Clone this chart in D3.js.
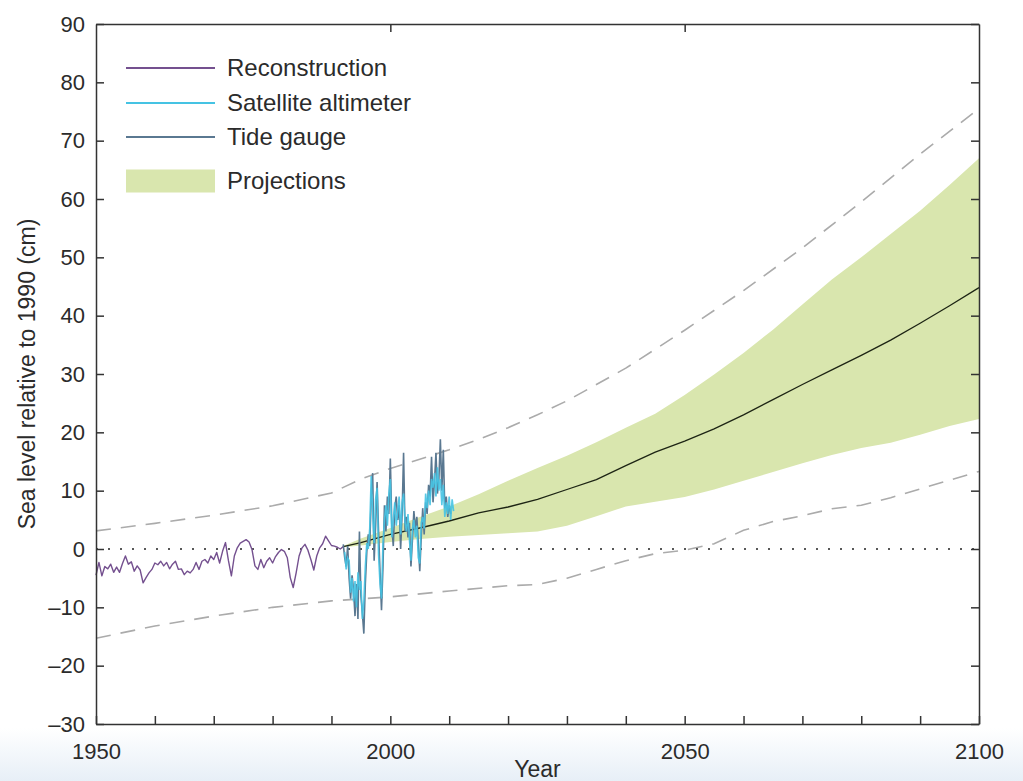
<!DOCTYPE html>
<html>
<head>
<meta charset="utf-8">
<script src="https://cdn.jsdelivr.net/npm/d3@7"></script>
<style>
  body { margin: 0; background: #fff; }
  text { font-family: "Liberation Sans", Arial, Helvetica, sans-serif; fill: #2b2b2b; }
</style>
</head>
<body>
<svg width="1023" height="781"></svg>
<script>
// reconstruction, one value every half year from 1950.0 to 1992.0
const reconStart = 1950;
const reconStep = 0.5;
const reconstruction = [
  -4.5, -2.3, -4.6, -3.0, -3.4, -2.6, -4.0, -3.1, -4.0, -2.5,
  -1.2, -2.6, -2.2, -3.8, -2.9, -3.6, -5.8, -4.9, -4.1, -3.5,
  -2.4, -2.7, -2.1, -2.9, -2.3, -3.4, -2.6, -2.1, -3.5, -3.4,
  -4.4, -3.8, -4.1, -3.5, -2.3, -3.5, -2.1, -1.8, -2.4, -1.2,
  -1.8, -0.6, -2.4, -0.4, 1.1, -2.0, -4.6, -1.2, 0.2, 1.0,
  1.3, 1.6, 1.2, -0.1, -2.9, -3.5, -1.8, -3.2, -2.1, -1.5,
  -2.4, -1.3, -0.6, -0.1, -0.4, -1.5, -4.9, -6.6, -4.1, -1.2,
  0.2, 0.8, -0.2, -1.8, -3.6, -1.2, 0.2, 0.9, 2.2, 1.4,
  0.6, 0.5, 0.3, 0.0, 0.4
];

// tide gauge, one value every quarter year from 1992.0
const tideStart = 1992;
const tideStep = 0.25;
const tideGauge = [
  0.8, -1.5, -3.0, 0.5, -5.0, -8.5, -4.5, -7.0, -11.5, -6.0,
  -12.0, 3.0, -8.0, -11.0, -14.5, -6.0, -0.5, 2.5, 0.5, 9.0,
  13.0, -2.0, 4.0, 11.5, 3.0, -4.0, -10.5, -3.0, 7.5, 3.0,
  9.0, 6.0, 15.5, 4.0, 0.5, 7.0, 9.0, 5.0, 7.5, 0.0,
  6.0, 16.5, 3.0, 5.5, 2.0, 4.5, -3.0, 1.5, 6.5, 3.5,
  5.5, 1.0, -3.8, 2.0, 7.0, 2.5, 8.0, 6.0, 11.0, 9.0,
  15.8, 8.0, 11.5, 16.5, 9.5, 12.0, 18.8, 10.0, 17.0, 7.0,
  9.0, 5.5, 7.5, 6.0
];

// satellite altimeter, one value every quarter year from 1992.25
const satStart = 1992.25;
const satStep = 0.25;
const satellite = [
  -0.5, -3.5, -1.5, -2.0, -7.5, -5.0, -9.0, -5.5, -10.0, -4.0,
  -7.0, -5.5, -12.0, -9.0, -3.0, 1.0, 0.0, 3.5, 12.5, 6.0,
  1.0, 8.5, 10.5, -1.0, -6.0, -8.5, 1.0, 5.0, 7.5, 4.0,
  9.5, 12.0, 2.0, 5.0, 8.0, 4.0, 6.5, 9.0, 2.5, 8.0,
  9.5, 4.5, 3.0, 6.0, 1.5, -2.0, 3.5, 5.0, 2.0, 4.0,
  -1.5, -2.5, 4.5, 5.5, 3.5, 9.5, 7.0, 10.0, 7.5, 12.0,
  10.5, 13.0, 9.0, 14.0, 10.0, 12.0, 7.5, 11.0, 5.5, 8.0,
  6.0, 9.0, 5.0, 8.5, 6.5
];

// projections
const projYears = [1992, 1995, 2000, 2005, 2010, 2015, 2020, 2025, 2030, 2035, 2040, 2045,
  2050, 2055, 2060, 2065, 2070, 2075, 2080, 2085, 2090, 2095, 2100];
const projUpper = [0.5, 1.8, 3.6, 5.5, 7.3, 9.4, 11.7, 13.9, 16.0, 18.3, 20.8, 23.2,
  26.4, 29.9, 33.6, 37.6, 41.9, 46.2, 50.0, 54.0, 58.0, 62.4, 67.0];
const projLower = [0.3, 0.6, 1.2, 1.7, 2.1, 2.4, 2.7, 3.0, 4.0, 5.6, 7.3, 8.1,
  8.9, 10.2, 11.7, 13.2, 14.7, 16.1, 17.3, 18.2, 19.6, 21.1, 22.3];
const projMedian = [0.4, 1.1, 2.5, 3.6, 4.8, 6.2, 7.2, 8.5, 10.2, 11.9, 14.3, 16.6,
  18.5, 20.6, 23.0, 25.6, 28.2, 30.7, 33.2, 35.8, 38.7, 41.7, 44.8];

// dashed envelopes
const upperDashYears = [1950, 1960, 1970, 1980, 1990, 1995, 2000, 2005, 2010, 2015, 2020,
  2025, 2030, 2040, 2050, 2060, 2070, 2080, 2090, 2100];
const upperDash = [3.1, 4.4, 5.8, 7.4, 9.6, 12.0, 13.8, 15.4, 17.0, 18.8, 20.8,
  23.0, 25.4, 31.0, 37.5, 44.3, 51.6, 59.5, 67.7, 75.5];
const lowerDashYears = [1950, 1960, 1970, 1980, 1990, 2000, 2010, 2020, 2025, 2030, 2035,
  2040, 2045, 2050, 2055, 2060, 2065, 2070, 2075, 2080, 2085, 2090, 2095, 2100];
const lowerDash = [-15.3, -13.2, -11.5, -10.0, -8.9, -8.2, -7.2, -6.3, -6.1, -5.0, -3.5,
  -2.0, -0.8, -0.2, 0.9, 3.2, 4.7, 5.7, 6.9, 7.5, 8.8, 10.3, 11.8, 13.3];

const xTicks = d3.range(1950, 2101, 10);
const xLabels = [1950, 2000, 2050, 2100];
const yTicks = d3.range(-30, 91, 10);

const legendItems = [
  {label: 'Reconstruction', color: '#74508f', type: 'line'},
  {label: 'Satellite altimeter', color: '#45c3e3', type: 'line'},
  {label: 'Tide gauge', color: '#5a7891', type: 'line'},
  {label: 'Projections', color: '#d9e6ae', type: 'rect'}
];

const svg = d3.select('svg');
const width = +svg.attr('width');
const height = +svg.attr('height');

const render = () => {
  const margin = {top: 24, right: 44, bottom: 57, left: 96};
  const innerWidth = width - margin.left - margin.right;
  const innerHeight = height - margin.top - margin.bottom;

  // faint blue wash along the bottom edge
  const grad = svg.append('defs').append('linearGradient')
    .attr('id', 'wash').attr('x1', 0).attr('y1', 0).attr('x2', 0).attr('y2', 1);
  grad.append('stop').attr('offset', '0%').attr('stop-color', '#ffffff');
  grad.append('stop').attr('offset', '100%').attr('stop-color', '#e7eff7');
  svg.append('rect')
    .attr('x', 0).attr('y', 728).attr('width', width).attr('height', height - 728)
    .attr('fill', 'url(#wash)');

  const xScale = d3.scaleLinear().domain([1950, 2100]).range([0, innerWidth]);
  const yScale = d3.scaleLinear().domain([-30, 90]).range([innerHeight, 0]);

  const g = svg.append('g')
    .attr('transform', `translate(${margin.left},${margin.top})`);

  const series = (start, step, values) =>
    values.map((v, i) => ({year: start + i * step, value: v}));
  const paired = (years, values) => years.map((yr, i) => ({year: yr, value: values[i]}));

  const line = d3.line()
    .x(d => xScale(d.year))
    .y(d => yScale(d.value));

  // projection band
  const band = projYears.map((yr, i) => ({year: yr, lo: projLower[i], hi: projUpper[i]}));
  g.append('path')
    .datum(band)
    .attr('fill', '#d9e6ae')
    .attr('d', d3.area()
      .x(d => xScale(d.year))
      .y0(d => yScale(d.lo))
      .y1(d => yScale(d.hi)));

  // dashed envelopes
  [paired(upperDashYears, upperDash), paired(lowerDashYears, lowerDash)].forEach(data => {
    g.append('path')
      .datum(data)
      .attr('fill', 'none')
      .attr('stroke', '#ababab')
      .attr('stroke-width', 1.6)
      .attr('stroke-dasharray', '15,10')
      .attr('d', line);
  });

  // zero line
  g.append('line')
    .attr('x1', xScale(1950)).attr('x2', xScale(2100))
    .attr('y1', yScale(0)).attr('y2', yScale(0))
    .attr('stroke', '#222')
    .attr('stroke-width', 1.6)
    .attr('stroke-dasharray', '2,10');

  // median projection
  g.append('path')
    .datum(paired(projYears, projMedian))
    .attr('fill', 'none')
    .attr('stroke', '#1d2414')
    .attr('stroke-width', 1.3)
    .attr('d', line);

  // observations
  g.append('path')
    .datum(series(reconStart, reconStep, reconstruction))
    .attr('fill', 'none')
    .attr('stroke', '#74508f')
    .attr('stroke-width', 1.4)
    .attr('stroke-linejoin', 'round')
    .attr('d', line);

  g.append('path')
    .datum(series(tideStart, tideStep, tideGauge))
    .attr('fill', 'none')
    .attr('stroke', '#5a7891')
    .attr('stroke-width', 1.6)
    .attr('d', line);

  g.append('path')
    .datum(series(satStart, satStep, satellite))
    .attr('fill', 'none')
    .attr('stroke', '#45c3e3')
    .attr('stroke-width', 1.6)
    .attr('opacity', 0.9)
    .attr('d', line);

  // axes (ticks point inward)
  const styleAxis = sel => {
    sel.select('.domain').attr('stroke', '#333').attr('stroke-width', 1.5);
    sel.selectAll('.tick line').attr('stroke', '#333').attr('stroke-width', 1.5);
    sel.selectAll('.tick text')
      .attr('font-size', 22)
      .attr('font-family', '"Liberation Sans", Arial, sans-serif')
      .attr('fill', '#2b2b2b');
  };

  g.append('g')
    .attr('transform', `translate(0,${innerHeight})`)
    .call(d3.axisBottom(xScale)
      .tickValues(xTicks)
      .tickSize(-8)
      .tickSizeOuter(0)
      .tickPadding(19)
      .tickFormat(d => xLabels.includes(d) ? d : ''))
    .call(styleAxis);

  g.append('g')
    .call(d3.axisTop(xScale)
      .tickValues([2000, 2050])
      .tickSize(-8)
      .tickSizeOuter(0)
      .tickFormat(''))
    .call(styleAxis);

  g.append('g')
    .call(d3.axisLeft(yScale)
      .tickValues(yTicks)
      .tickSize(-8)
      .tickSizeOuter(0)
      .tickPadding(11)
      .tickFormat(d => d < 0 ? '\u2013' + Math.abs(d) : d))
    .call(styleAxis);

  g.append('g')
    .attr('transform', `translate(${innerWidth},0)`)
    .call(d3.axisRight(yScale)
      .tickValues(yTicks)
      .tickSize(-8)
      .tickSizeOuter(0)
      .tickFormat(''))
    .call(styleAxis);

  // axis titles
  svg.append('text')
    .attr('x', margin.left + innerWidth / 2)
    .attr('y', 777)
    .attr('text-anchor', 'middle')
    .attr('font-size', 23)
    .text('Year');

  svg.append('text')
    .attr('transform', `translate(35,${margin.top + innerHeight / 2}) rotate(-90)`)
    .attr('text-anchor', 'middle')
    .attr('font-size', 23)
    .text('Sea level relative to 1990 (cm)');

  // legend
  const legend = svg.append('g');
  const rowY = [68, 103, 137, 181];
  legendItems.forEach((item, i) => {
    const row = legend.append('g').attr('transform', `translate(126,${rowY[i]})`);
    if (item.type === 'line') {
      row.append('line')
        .attr('x1', 0).attr('x2', 89)
        .attr('stroke', item.color)
        .attr('stroke-width', 2.2);
    } else {
      row.append('rect')
        .attr('x', 0).attr('y', -11.5)
        .attr('width', 89).attr('height', 23)
        .attr('fill', item.color);
    }
    row.append('text')
      .attr('x', 101)
      .attr('dy', '0.35em')
      .attr('font-size', 24)
      .text(item.label);
  });
};

render();
</script>
</body>
</html>
